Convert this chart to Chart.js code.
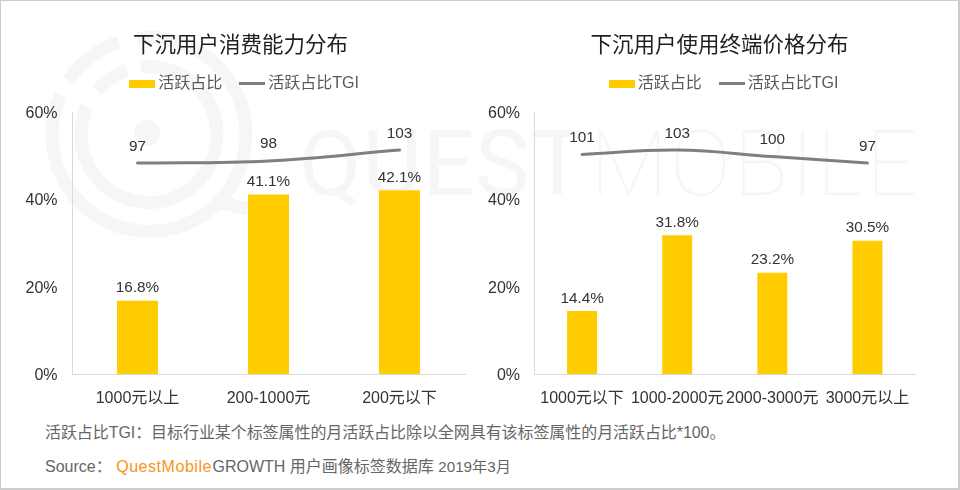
<!DOCTYPE html>
<html><head><meta charset="utf-8">
<script src="https://cdn.jsdelivr.net/npm/chart.js@4"></script>
<style>
html,body{margin:0;padding:0;background:#fff;width:960px;height:490px;overflow:hidden}
body{position:relative;font-family:"Liberation Sans","Noto Sans CJK SC",sans-serif}
#frame{position:absolute;left:0;top:0;width:960px;height:490px;box-sizing:border-box;border:1px solid #ccc;border-width:1px 2px 2px 1px}
canvas.chart{position:absolute;top:0}
.wm{position:absolute;top:119px;font-family:Roboto,sans-serif;font-size:91px;color:#f6f6f6;white-space:nowrap;line-height:90px}
.note{position:absolute;left:45px;font-size:16px;color:#666;white-space:nowrap;line-height:20px}
.note b{font-weight:normal;color:#f7941d;letter-spacing:.55px;margin-right:-4px}
.note i{font-style:normal;font-size:15.2px}
svg{position:absolute;left:0;top:0}
</style></head><body>
<svg id="mark" width="960" height="490" fill="none" stroke="#f6f6f6" stroke-width="13"></svg>
<div class="wm" style="left:299px;letter-spacing:1px">QUEST</div>
<div class="wm" style="left:590px;font-weight:100;letter-spacing:2.3px">MOBILE</div>
<div id="frame"></div>
<canvas class="chart" id="c1"></canvas><canvas class="chart" id="c2"></canvas>
<div class="note" style="top:423px;letter-spacing:-.07px">活跃占比TGI：目标行业某个标签属性的月活跃占比除以全网具有该标签属性的月活跃占比*100。</div>
<div class="note" style="top:457px">Source： <b>QuestMobile</b> GROWTH 用户画像标签数据库 <i>2019年3月</i></div>
<script>
const title1 = "下沉用户消费能力分布";
const title2 = "下沉用户使用终端价格分布";
const categories1 = ["1000元以上","200-1000元","200元以下"];
const categories2 = ["1000元以下","1000-2000元","2000-3000元","3000元以上"];
const share1 = [16.8,41.1,42.1];
const share2 = [14.4,31.8,23.2,30.5];
const tgi1 = [97,98,103];
const tgi2 = [101,103,100,97];
const seriesNames = ["活跃占比","活跃占比TGI"];
const FONT = '"Liberation Sans","Noto Sans CJK SC",sans-serif';
const BAR = '#ffcc00', LINE = '#7f7f7f', INK = '#333';

// watermark logo
(function(){
  const arc=(cx,cy,r,a,b)=>{const p=d=>[(cx+r*Math.cos(d*Math.PI/180)).toFixed(1),(cy+r*Math.sin(d*Math.PI/180)).toFixed(1)].join(' ');
    return `<path d="M${p(a)}A${r} ${r} 0 ${b-a>180?1:0} 1 ${p(b)}"/>`;};
  document.getElementById('mark').innerHTML =
    arc(149,134.5,97,-97,204)+arc(149,134.5,97,214,252)+
    arc(149,134.5,68,-97,204)+arc(149,134.5,68,220,251)+
    '<circle cx="147" cy="133" r="13" fill="#f6f6f6" stroke="none"/>'+
    '<path d="M212 201L248 209"/>';
})();

function swatch(w,h,color){
  const c=document.createElement('canvas');c.width=w;c.height=h;
  const x=c.getContext('2d');x.fillStyle=color;x.fillRect(0,0,w,h);return c;
}
const barSwatch=swatch(26,8,BAR), lineSwatch=swatch(26,3,LINE);

const labelPlugin = {
  id:'valueLabels',
  afterDatasetsDraw(chart){
    const ctx = chart.ctx;
    ctx.save();
    ctx.font = '15.3px '+FONT;
    ctx.fillStyle = INK;
    ctx.textAlign = 'center';
    ctx.textBaseline = 'alphabetic';
    chart.data.datasets.forEach((ds,i)=>{
      chart.getDatasetMeta(i).data.forEach((el,j)=>{
        const isBar = ds.type==='bar';
        const text = isBar ? ds.data[j].toFixed(1)+'%' : String(ds.data[j]);
        ctx.fillText(text, el.x, el.y-(isBar?8.5:12.5));
      });
    });
    ctx.restore();
  }
};
const placePlugin = {
  id:'place',
  start(chart,args,opts){
    const f=chart.legend.fit;
    chart.legend.fit=function(){f.call(this);this.height=opts.legendH;};
  },
  afterLayout(chart,args,opts){
    const t=chart.titleBlock,l=chart.legend;
    t.left+=opts.titleDx;t.right+=opts.titleDx;
    l.left+=opts.legendDx;l.right+=opts.legendDx;l.top+=opts.legendDy;l.bottom+=opts.legendDy;
    const y=chart.scales.y, g=y._computeLabelItems;
    y._computeLabelItems=function(a){const r=g.call(this,a);r.forEach(i=>{i.textOffset+=1.5;});return r;};
  }
};

function make(id,left,title,cats,share,tgi,yWidth,rightPad,barPct,titleDx,legendDx){
  const cv = document.getElementById(id);
  cv.width=480;cv.height=420;cv.style.width='480px';cv.style.height='420px';cv.style.left=left+'px';
  return new Chart(cv,{
    data:{labels:cats,datasets:[
      {type:'line',label:seriesNames[1],data:tgi,yAxisID:'y2',borderColor:LINE,backgroundColor:LINE,borderWidth:3,tension:0.4,pointRadius:0,borderCapStyle:'round',order:1},
      {type:'bar',label:seriesNames[0],data:share,yAxisID:'y',backgroundColor:BAR,barPercentage:barPct,categoryPercentage:1,order:2}
    ]},
    options:{
      responsive:false,animation:false,devicePixelRatio:1,
      layout:{padding:{left:0,right:rightPad,top:0,bottom:0}},
      plugins:{
        title:{display:true,text:title,color:'#1f1f1f',font:{family:FONT,size:21.5,weight:'normal'},padding:{top:33,bottom:0}},
        legend:{display:true,position:'top',reverse:true,
          labels:{usePointStyle:true,pointStyleWidth:16,boxHeight:8,color:'#595959',font:{family:FONT,size:16},padding:22,
            generateLabels(chart){
              const items=Chart.defaults.plugins.legend.labels.generateLabels(chart);
              items.forEach(it=>{it.pointStyle=it.text===seriesNames[0]?barSwatch:lineSwatch;});
              return items;
            }}},
        tooltip:{enabled:false},
        place:{legendH:53.2,legendDy:-5,titleDx:titleDx,legendDx:legendDx}
      },
      scales:{
        x:{afterFit(s){s.height=46},grid:{display:false,drawTicks:false},border:{color:'#d9d9d9',width:1},ticks:{color:INK,font:{family:FONT,size:16},padding:15,maxRotation:0,autoSkip:false}},
        y:{position:'left',min:0,max:60,afterFit(s){s.width=yWidth},grid:{display:false,drawTicks:false},border:{color:'#d9d9d9',width:1},
           ticks:{stepSize:20,color:INK,font:{family:FONT,size:16},padding:14.5,callback:v=>v+'%'}},
        y2:{position:'right',min:0,max:120.5,display:false}
      }
    },
    plugins:[placePlugin,labelPlugin]
  });
}
make('c1',0,title1,categories1,share1,tgi1,72,15,0.313,8,14);
make('c2',480,title2,categories2,share2,tgi2,54.5,45,0.315,22,28.5);
</script>
</body></html>
